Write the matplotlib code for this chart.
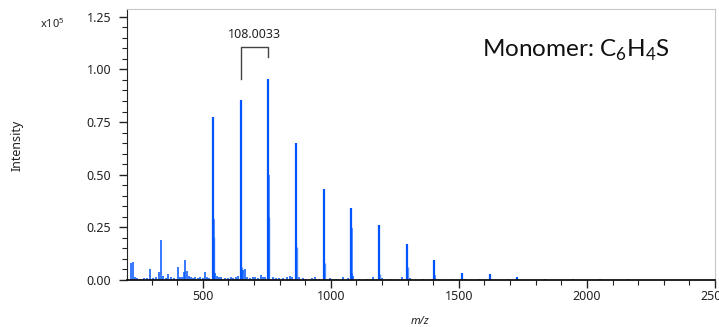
import matplotlib
matplotlib.use("Agg")
import matplotlib.pyplot as plt
from matplotlib.ticker import MultipleLocator, FormatStrFormatter

# main oligomer peaks (m/z, intensity in units of 1e5)
mz_main = [540, 648, 756, 864, 972, 1080, 1188, 1296, 1404, 1512, 1620, 1728, 1836, 1944, 2052, 2160]
int_main = [0.773, 0.853, 0.954, 0.652, 0.431, 0.340, 0.261, 0.171, 0.095, 0.032, 0.028, 0.016, 0.006, 0.005, 0.004, 0.003]
# isotope side peaks (+2 and +4)
int_iso2 = [0.288, 0.36, 0.50, 0.324, 0.285, 0.245, 0.114, 0.158, 0.024, 0.020, 0.010, 0.006, 0.002, 0.002, 0.001, 0.001]
int_iso4 = [0.206, 0.063, 0.30, 0.158, 0.080, 0.033, 0.030, 0.063, 0.010, 0.006, 0.004, 0.002, 0.001, 0.001, 0.0, 0.0]

# minor peaks / chemical noise
mz_minor = [220, 228, 236, 245, 258, 270, 281, 293, 305, 316, 328, 336, 343, 355, 363, 375, 388, 402,
            412, 420, 428, 432, 439, 446, 455, 463, 471, 480, 490, 500, 510, 518, 526, 549, 556, 563,
            572, 585, 597, 610, 620, 628, 636, 658, 665, 672, 684, 695, 705, 716, 728, 735, 744, 775,
            786, 798, 812, 828, 841, 850, 876, 890, 905, 925, 938, 955, 998, 1020, 1048, 1066, 1088,
            1110, 1140, 1166, 1200, 1230, 1277, 1310, 1360, 1395, 1420, 1470, 1525, 1580, 1690]
int_minor = [0.079, 0.085, 0.012, 0.008, 0.006, 0.010, 0.008, 0.051, 0.010, 0.012, 0.040, 0.188, 0.020,
             0.010, 0.028, 0.012, 0.008, 0.063, 0.015, 0.012, 0.040, 0.095, 0.044, 0.020, 0.012, 0.008,
             0.015, 0.010, 0.012, 0.010, 0.038, 0.015, 0.010, 0.032, 0.020, 0.015, 0.012, 0.010, 0.008,
             0.012, 0.010, 0.015, 0.020, 0.047, 0.051, 0.015, 0.010, 0.012, 0.012, 0.010, 0.025, 0.015,
             0.012, 0.015, 0.010, 0.008, 0.010, 0.012, 0.020, 0.012, 0.012, 0.008, 0.006, 0.008, 0.015,
             0.006, 0.010, 0.006, 0.015, 0.008, 0.020, 0.005, 0.005, 0.015, 0.008, 0.004, 0.015, 0.008,
             0.004, 0.005, 0.006, 0.003, 0.005, 0.003, 0.003]

spacing_label = "108.0033"
blue = "#0055ff"
font = "Noto Sans"

fig = plt.figure(figsize=(7.19, 3.27), dpi=100)
ax = fig.add_axes([0.1762, 0.1437, 0.8182, 0.8288])

ax.vlines(mz_minor, 0, int_minor, color=blue, lw=1.1)
ax.vlines([m + 4 for m in mz_main], 0, int_iso4, color=blue, lw=1.0, alpha=0.6)
ax.vlines([m + 2 for m in mz_main], 0, int_iso2, color=blue, lw=1.1, alpha=0.8)
ax.vlines(mz_main, 0, int_main, color=blue, lw=1.6)

ax.set_xlim(203, 2500)
ax.set_ylim(0, 1.287)

ax.xaxis.set_major_locator(MultipleLocator(500))
ax.xaxis.set_minor_locator(MultipleLocator(100))
ax.yaxis.set_major_locator(MultipleLocator(0.25))
ax.yaxis.set_minor_locator(MultipleLocator(0.05))
ax.yaxis.set_major_formatter(FormatStrFormatter("%.2f"))

ax.tick_params(which="major", direction="out", length=6, width=1, color="#222222",
               labelsize=9, labelcolor="#222222")
ax.tick_params(which="minor", direction="out", length=3.3, width=0.8, color="#222222")
ax.tick_params(axis="x", pad=1.5)
ax.tick_params(axis="y", pad=5)
for lab in ax.get_xticklabels() + ax.get_yticklabels():
    lab.set_family(font)

ax.spines["left"].set_color("#222222")
ax.spines["bottom"].set_color("#111111")
ax.spines["bottom"].set_linewidth(1.3)
ax.spines["top"].set_color("#c8c8c8")
ax.spines["right"].set_color("#c8c8c8")

fig.text(17 / 719, 1 - 145 / 327, "Intensity", rotation=90, ha="center", va="center",
         fontsize=9, family=font, color="#222222")
fig.text(40 / 719, 1 - 28 / 327, r"x10$^\mathregular{5}$", ha="left", va="baseline",
         fontsize=8, family=font, color="#222222")
fig.text(420 / 719, 1 - 321 / 327, "m/z", ha="center", va="center", fontsize=8,
         family=font, style="italic", color="#222222")

# spacing bracket between two oligomers
b0, b1 = mz_main[1], mz_main[2]
ax.plot([b0, b0, b1, b1], [0.956, 1.108, 1.108, 1.059], color="#444444", lw=1.0)
ax.text((b0 + b1) / 2, 1.135, spacing_label, ha="center", va="bottom", fontsize=9,
        family=font, color="#222222")

fig.text(482 / 719, 1 - 57 / 327, r"Monomer: C$_\mathregular{6}$H$_\mathregular{4}$S",
         ha="left", va="baseline", fontsize=17.5, family="Lato", color="#111111")

fig.savefig("out.png", dpi=100)
